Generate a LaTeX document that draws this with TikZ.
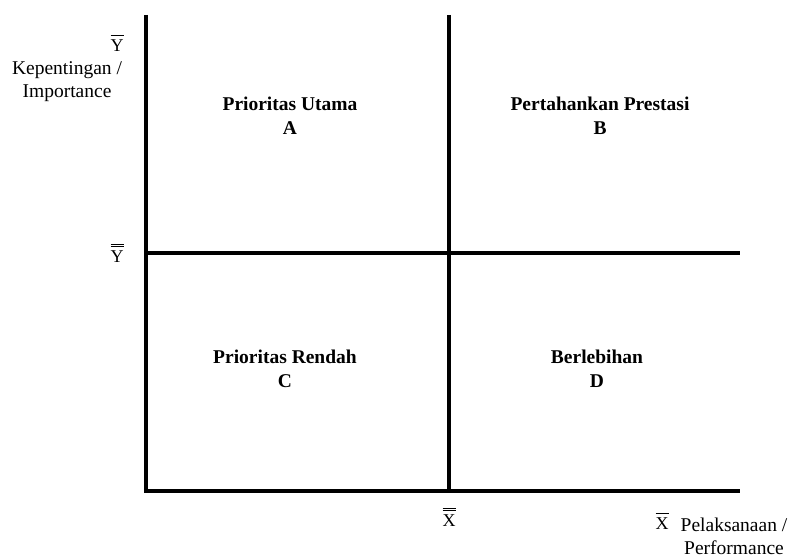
\documentclass[tikz,border=0pt]{standalone}
\usepackage{fontspec}
\setmainfont{Liberation Serif}
\newcommand{\onebar}[1]{$\overline{\rule{0pt}{15pt}\hbox{#1}}$}
\newcommand{\twobar}[1]{$\overline{\rule{0pt}{17pt}\overline{\rule{0pt}{15pt}\hbox{#1}}}$}
\begin{document}
\begin{tikzpicture}[x=1pt,y=-1pt,
  axis/.style={line width=3.2pt,line cap=butt},
  quad/.style={font=\fontsize{19.5}{24}\selectfont\bfseries,align=center,inner sep=0pt},
  lab/.style={font=\fontsize{19.5}{23}\selectfont,align=center,inner sep=0pt},
  sym/.style={font=\fontsize{18}{20}\selectfont,inner sep=0pt}]
\useasboundingbox (0,0) rectangle (792,559);
\coordinate (tl) at (146,15);
\coordinate (bl) at (146,491);
\coordinate (tm) at (449,15);
\coordinate (bm) at (449,491);
\coordinate (ml) at (146,253);
\coordinate (mr) at (740,253);
\coordinate (br) at (740,491);
\draw[axis] (tl) -- (bl);
\draw[axis] (tm) -- (bm);
\draw[axis] (ml) -- (mr);
\draw[axis] ([xshift=-1.6pt]bl) -- (br);
\node[quad] (a) at (290,116) {Prioritas Utama\\A};
\node[quad] (b) at (600,116) {Pertahankan Prestasi\\B};
\node[quad] (c) at (285,369) {Prioritas Rendah\\C};
\node[quad] (d) at (597,369) {Berlebihan\\D};
\node[sym] (ybar) at (117,43) {\onebar{Y}};
\node[lab] (ylab) at (67,82) {Kepentingan /\\Importance};
\node[sym] (yy) at (117,253) {\twobar{Y}};
\node[sym] (xx) at (449,517) {\twobar{X}};
\node[sym] (xbar) at (662,521) {\onebar{X}};
\node[lab] (xlab) at (734,536) {Pelaksanaan /\\Performance};
\end{tikzpicture}
\end{document}
